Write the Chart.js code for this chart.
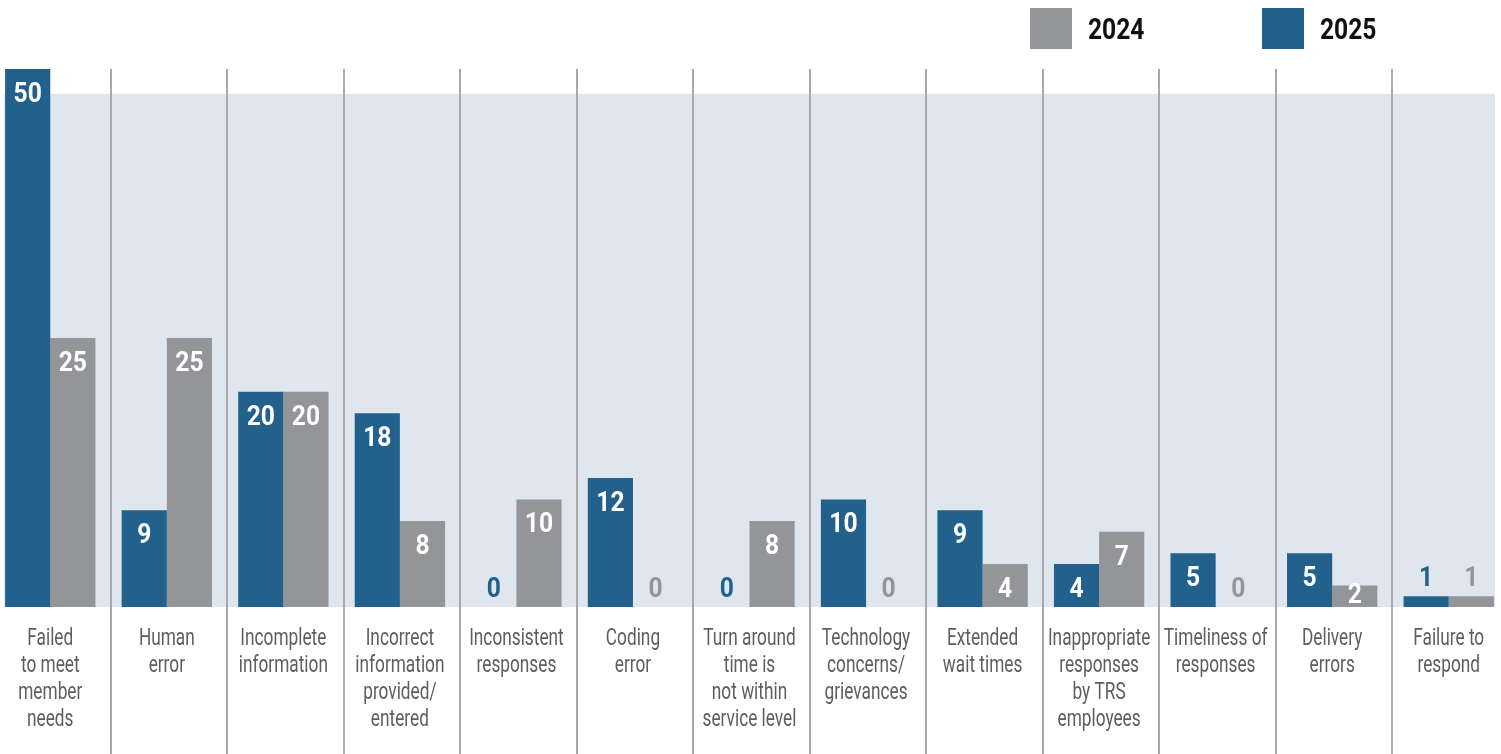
<!DOCTYPE html>
<html>
<head>
<meta charset="utf-8">
<script src="https://cdn.jsdelivr.net/npm/chart.js@4.4.1/dist/chart.umd.min.js"></script>
<style>
  html, body { margin: 0; padding: 0; background: #fff; overflow: hidden; }
  #wrap { position: relative; width: 1501px; height: 754px; overflow: hidden; }
  #chart { position: absolute; left: -8px; top: 0; }
  #legend { position: absolute; top: 7px; left: 0; width: 1501px; height: 42px; }
  .item { position: absolute; top: 0; height: 42px; display: flex; align-items: center; }
  .swatch { width: 42px; height: 41px; }
  .item span { display: inline-block; margin-left: 16px; font: bold 30px Roboto, sans-serif; color: #111;
    transform: scaleX(0.82); transform-origin: left center; }
</style>
</head>
<body>
<div id="wrap">
  <canvas id="chart" width="1515" height="754"></canvas>
  <div id="legend"></div>
</div>
<script>
const categories = [
  ['Failed', 'to meet', 'member', 'needs'],
  ['Human', 'error'],
  ['Incomplete', 'information'],
  ['Incorrect', 'information', 'provided/', 'entered'],
  ['Inconsistent', 'responses'],
  ['Coding', 'error'],
  ['Turn around', 'time is', 'not within', 'service level'],
  ['Technology', 'concerns/', 'grievances'],
  ['Extended', 'wait times'],
  ['Inappropriate', 'responses', 'by TRS', 'employees'],
  ['Timeliness of', 'responses'],
  ['Delivery', 'errors'],
  ['Failure to', 'respond']
];
const values2025 = [50, 9, 20, 18, 0, 12, 0, 10, 9, 4, 5, 5, 1];
const values2024 = [25, 25, 20, 8, 10, 0, 8, 0, 4, 7, 0, 2, 1];

const BLUE = '#22618b';
const GRAY = '#939598';
const FONT = 'Roboto, sans-serif';
const SHIFT = 8; // canvas sits 8px left of the page edge

// legend, 2024 first like the original
const legendItems = [
  { label: '2024', color: GRAY, left: 1030 },
  { label: '2025', color: BLUE, left: 1262 }
];
const legendEl = document.getElementById('legend');
legendItems.forEach(it => {
  const d = document.createElement('div');
  d.className = 'item';
  d.style.left = it.left + 'px';
  d.innerHTML = `<div class="swatch" style="background:${it.color}"></div><span>${it.label}</span>`;
  legendEl.appendChild(d);
});

// draw text squeezed horizontally (the original uses a condensed face)
function narrowText(ctx, text, x, y, sx) {
  ctx.save();
  ctx.translate(x, y);
  ctx.scale(sx, 1);
  ctx.fillText(text, 0, 0);
  ctx.restore();
}

// light band + column dividers behind the bars
const backdrop = {
  id: 'backdrop',
  beforeDatasetsDraw(chart) {
    const { ctx, chartArea, scales: { x } } = chart;
    ctx.save();
    ctx.fillStyle = '#dfe6ed';
    ctx.fillRect(SHIFT + 4, chartArea.top + 25, 1491, chartArea.bottom - chartArea.top - 25);
    ctx.strokeStyle = '#a7a9ac';
    ctx.lineWidth = 2;
    const step = x.getPixelForValue(1) - x.getPixelForValue(0);
    for (let i = 0; i < categories.length - 1; i++) {
      const px = Math.round(x.getPixelForValue(i) + step / 2) + 2;
      ctx.beginPath();
      ctx.moveTo(px, chartArea.top);
      ctx.lineTo(px, chart.height);
      ctx.stroke();
    }
    ctx.restore();
  }
};

// category labels under the columns
const catLabels = {
  id: 'catLabels',
  afterDraw(chart) {
    const { ctx, chartArea, scales: { x } } = chart;
    ctx.save();
    ctx.font = '23px ' + FONT;
    ctx.fillStyle = '#5d5e60';
    ctx.textAlign = 'center';
    ctx.textBaseline = 'alphabetic';
    categories.forEach((lines, i) => {
      const cx = x.getPixelForValue(i);
      lines.forEach((ln, j) => narrowText(ctx, ln, cx, chartArea.bottom + 38 + j * 27, 0.75));
    });
    ctx.restore();
  }
};

// value labels on the bars
const valueLabels = {
  id: 'valueLabels',
  afterDatasetsDraw(chart) {
    const { ctx } = chart;
    ctx.save();
    ctx.font = 'bold 28px ' + FONT;
    ctx.textAlign = 'center';
    chart.data.datasets.forEach((ds, di) => {
      chart.getDatasetMeta(di).data.forEach((bar, i) => {
        const v = ds.data[i];
        const h = bar.base - bar.y;
        if (h >= 18) {
          ctx.fillStyle = '#fff';
          ctx.textBaseline = 'middle';
          narrowText(ctx, String(v), bar.x, Math.min(bar.y + 26, bar.base - 11), 0.88);
        } else {
          ctx.fillStyle = ds.backgroundColor;
          ctx.textBaseline = 'bottom';
          narrowText(ctx, String(v), bar.x, bar.y - 3, 0.88);
        }
      });
    });
    ctx.restore();
  }
};

new Chart(document.getElementById('chart'), {
  type: 'bar',
  data: {
    labels: categories,
    datasets: [
      { label: '2025', data: values2025, backgroundColor: BLUE },
      { label: '2024', data: values2024, backgroundColor: GRAY }
    ]
  },
  options: {
    responsive: false,
    animation: false,
    layout: { padding: { top: 69, left: 0, right: 0, bottom: 0 } },
    datasets: { bar: { categoryPercentage: 0.775, barPercentage: 1, borderWidth: 0 } },
    scales: {
      x: {
        grid: { display: false },
        border: { display: false },
        ticks: { display: false },
        afterFit(scale) { scale.height = 147; }
      },
      y: {
        display: false,
        min: 0,
        max: 50
      }
    },
    plugins: {
      legend: { display: false },
      tooltip: { enabled: false }
    }
  },
  plugins: [backdrop, valueLabels, catLabels]
});
</script>
</body>
</html>
